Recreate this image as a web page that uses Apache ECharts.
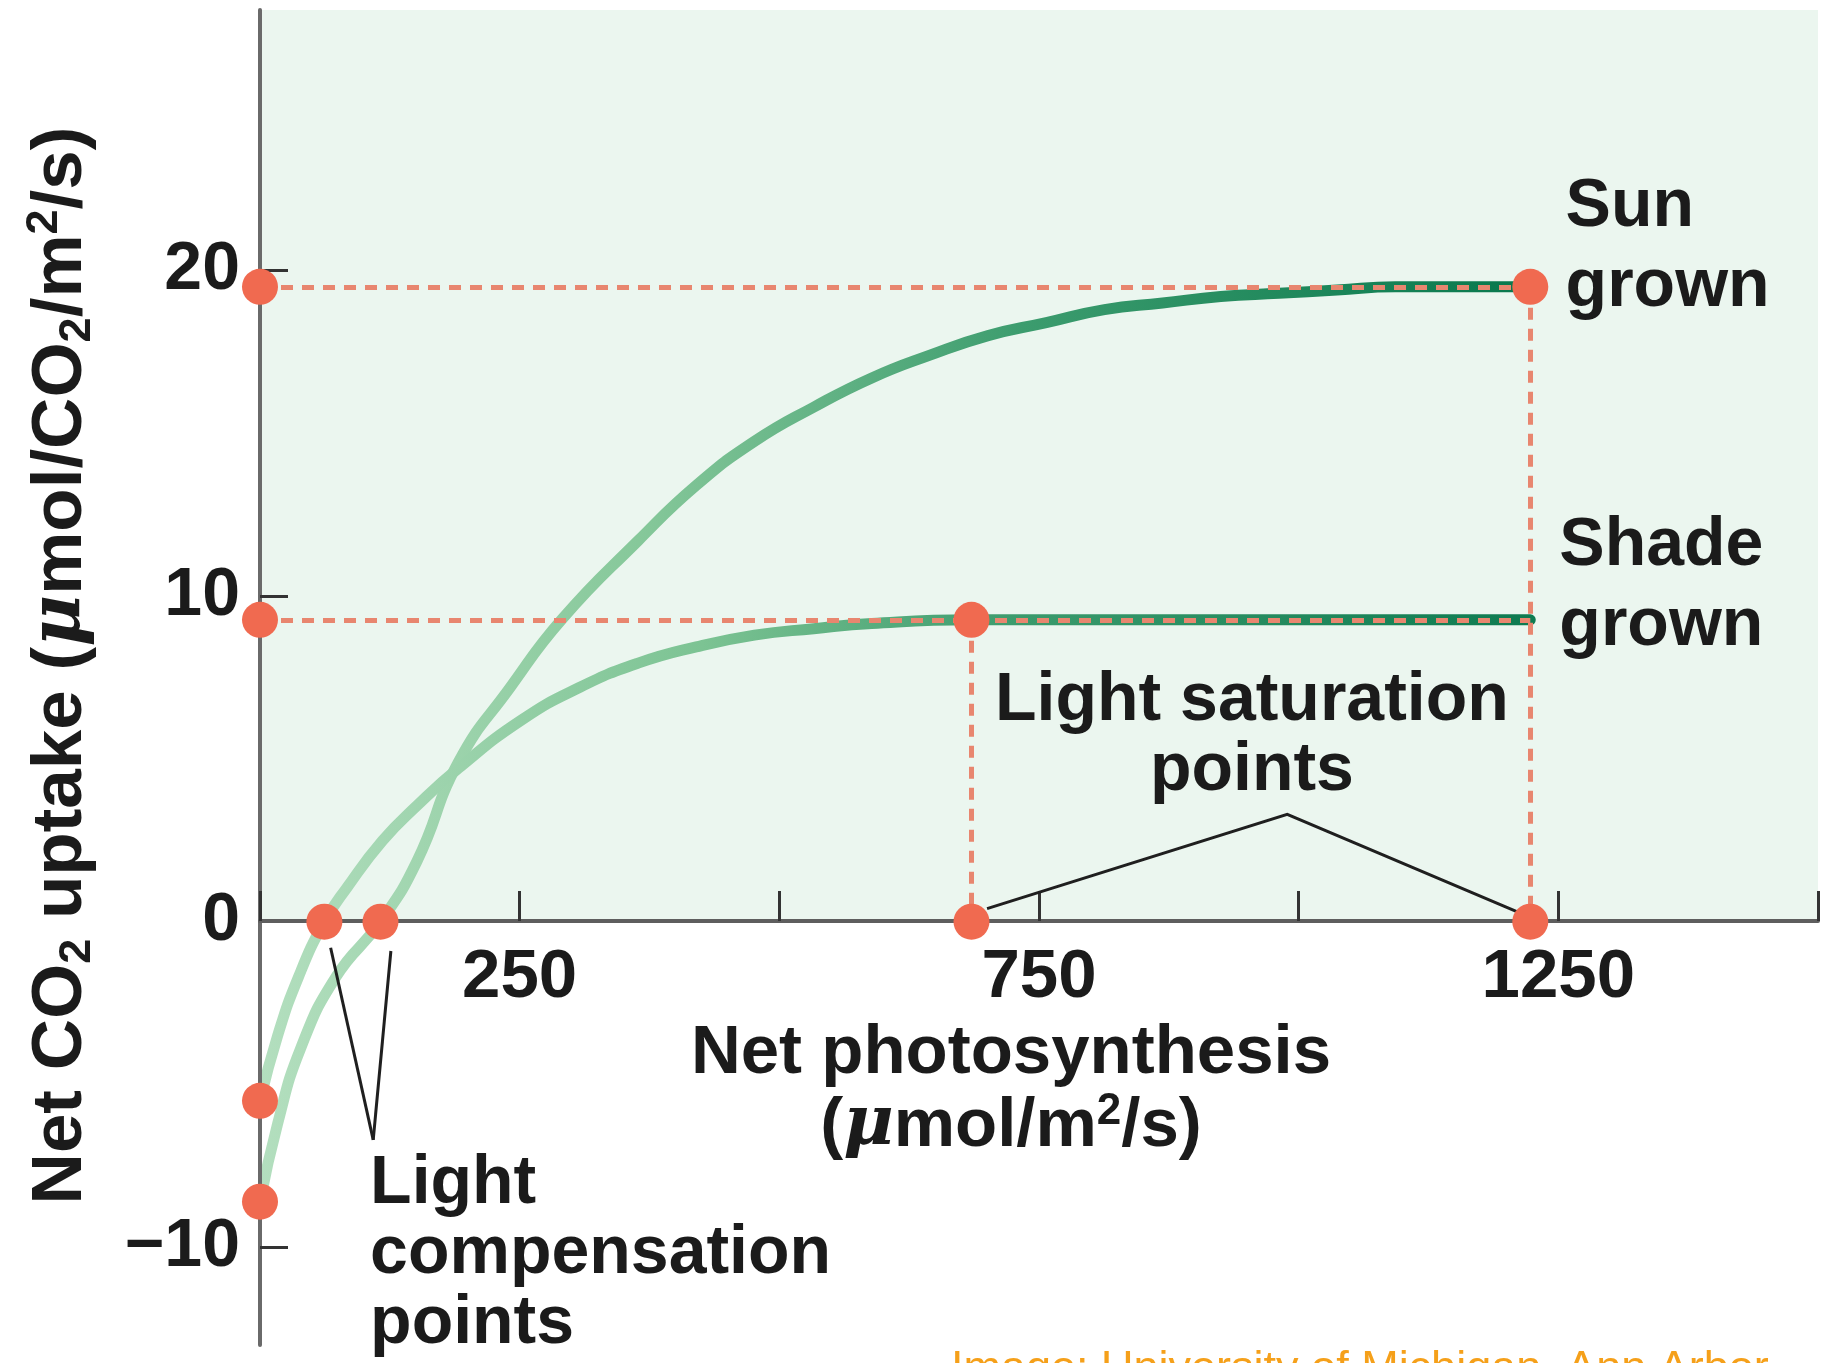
<!DOCTYPE html>
<html>
<head>
<meta charset="utf-8">
<title>Light response curves</title>
<script src="https://cdn.jsdelivr.net/npm/echarts@6/dist/echarts.min.js"></script>
<style>
  html, body { margin: 0; padding: 0; background: #fff; }
  #main { width: 1826px; height: 1363px; }
</style>
</head>
<body>
<div id="main"></div>
<script>
// tick labels
const xLabelVals = [250, 750, 1250];
const yLabelVals = [-10, 0, 10, 20];

// sun grown leaf
const sunX = [0, 17, 39, 73, 116, 151, 191, 241, 291, 364, 420, 476, 533, 589, 645, 701, 757, 813, 869, 925, 981, 1037, 1093, 1223];
const sunY = [-8.6, -6.2, -3.9, -1.7, 0, 1.85, 4.9, 7.2, 9.3, 11.7, 13.4, 14.75, 15.8, 16.7, 17.4, 18.0, 18.4, 18.8, 19.0, 19.2, 19.3, 19.4, 19.5, 19.5];

// shade grown leaf
const shadeX = [0, 17, 37, 62, 84, 118, 151, 191, 252, 308, 364, 420, 476, 533, 589, 685, 869, 1223];
const shadeY = [-5.5, -3.5, -1.7, 0, 1.06, 2.49, 3.56, 4.71, 6.2, 7.2, 7.94, 8.44, 8.8, 9.0, 9.16, 9.27, 9.27, 9.27];

// highlighted points (intercepts, compensation, saturation)
const dotX = [0, 0, 0, 0, 62, 116, 685, 1223, 685, 1223];
const dotY = [19.5, 9.27, -5.5, -8.6, 0, 0, 0, 0, 9.27, 19.5];

// dashed guides: start / end
const guideStart = [[0, 19.5], [0, 9.27], [685, 9.27], [1223, 19.5]];
const guideEnd = [[1223, 19.5], [1223, 9.27], [685, 0], [1223, 0]];

const FONT = '"Liberation Sans", Arial, Helvetica, sans-serif';
const INK = '#1b1b1b';

let myChart = echarts.init(document.getElementById('main'));

function zip(xs, ys) {
    return xs.map((x, i) => [x, ys[i]]);
}

function greenGrad(stops) {
    return new echarts.graphic.LinearGradient(0, 0, 1, 0, stops);
}

function richFor(size) {
    let small = Math.round(size * 0.64);
    let lh = Math.round(small * 0.9);
    return {
        s: { fontSize: small, fontWeight: 'bold', fontFamily: FONT, color: INK, lineHeight: lh, verticalAlign: 'bottom' },
        p: { fontSize: small, fontWeight: 'bold', fontFamily: FONT, color: INK, lineHeight: lh, verticalAlign: 'top' },
        m: { fontSize: size, fontStyle: 'italic', fontFamily: '"DejaVu Serif", serif', color: INK }
    };
}

let noteLabel = {
    show: true,
    position: 'inside',
    align: 'left',
    verticalAlign: 'middle',
    fontFamily: FONT,
    fontWeight: 'bold',
    fontSize: 68,
    lineHeight: 80,
    color: INK
};

let option = {
    animation: false,
    backgroundColor: '#ffffff',
    grid: { left: 260, right: 8, top: 10, bottom: 18, outerBoundsMode: 'none', containLabel: false },
    xAxis: {
        type: 'value',
        min: 0,
        max: 1500,
        interval: 250,
        z: 4,
        // the axis sits on y = 0, 424px above the grid bottom
        offset: -424,
        name: 'Net photosynthesis\n({m|μ}mol/m{p|2}/s)',
        nameLocation: 'middle',
        nameGap: 96,
        nameTextStyle: {
            fontFamily: FONT, fontWeight: 'bold', fontSize: 69, color: INK,
            lineHeight: 73, padding: [0, 56, 0, 0], rich: richFor(69)
        },
        axisLine: { onZero: false, lineStyle: { color: '#5e5e5e', width: 4 } },
        axisTick: { inside: true, length: 30, lineStyle: { color: '#333', width: 3 } },
        splitLine: { show: false },
        axisLabel: {
            customValues: xLabelVals,
            margin: 22,
            fontFamily: FONT, fontWeight: 'bold', fontSize: 69, color: INK,
            formatter: v => String(v)
        }
    },
    yAxis: {
        type: 'value',
        min: -13,
        max: 28,
        z: 4,
        name: 'Net CO{s|2} uptake ({m|μ}mol/CO{s|2}/m{p|2}/s)',
        nameLocation: 'middle',
        nameRotate: 90,
        nameGap: 160,
        nameTextStyle: {
            fontFamily: FONT, fontWeight: 'bold', fontSize: 71, color: INK,
            lineHeight: 78, padding: [0, 0, 0, 24], rich: richFor(71)
        },
        axisLine: { lineStyle: { color: '#6a6a6a', width: 4 } },
        axisTick: { inside: true, length: 28, customValues: [-10, 10, 20], lineStyle: { color: '#333', width: 3 } },
        splitLine: { show: false },
        axisLabel: {
            customValues: yLabelVals,
            margin: 20,
            fontFamily: FONT, fontWeight: 'bold', fontSize: 68, color: INK,
            formatter: v => (v < 0 ? '\u2212' + Math.abs(v) : String(v))
        }
    },
    graphic: [{
        type: 'text',
        left: 951,
        top: 1347,
        z: 20,
        style: {
            text: 'Image: University of Michigan, Ann Arbor',
            fill: '#f5a01a',
            font: '45px ' + FONT
        }
    }],
    series: [
        {
            // pale green panel above zero
            name: 'panel',
            type: 'line',
            z: 1,
            data: [],
            silent: true,
            markArea: {
                silent: true,
                itemStyle: { color: '#ebf6ef' },
                data: [[{ coord: [0, 0] }, { coord: [1500, 28] }]]
            }
        },
        {
            name: 'Sun grown',
            type: 'line',
            z: 3,
            data: zip(sunX, sunY),
            symbol: 'none',
            smooth: true,
            lineStyle: {
                width: 11,
                cap: 'round',
                color: greenGrad([
                    { offset: 0, color: '#b4dfbf' },
                    { offset: 0.3, color: '#86c89a' },
                    { offset: 0.6, color: '#3c9c6e' },
                    { offset: 1, color: '#07774c' }
                ])
            }
        },
        {
            name: 'Shade grown',
            type: 'line',
            z: 3,
            data: zip(shadeX, shadeY),
            symbol: 'none',
            smooth: true,
            lineStyle: {
                width: 11,
                cap: 'round',
                color: greenGrad([
                    { offset: 0, color: '#b4dfbf' },
                    { offset: 0.35, color: '#7cc393' },
                    { offset: 0.6, color: '#3a9a6c' },
                    { offset: 1, color: '#0d7a50' }
                ])
            }
        },
        {
            name: 'guides',
            type: 'lines',
            coordinateSystem: 'cartesian2d',
            z: 6,
            silent: true,
            data: guideStart.map((s, i) => ({ coords: [s, guideEnd[i]] })),
            lineStyle: { color: '#e8866f', width: 5, type: [12, 9], opacity: 1 }
        },
        {
            name: 'leaders',
            type: 'lines',
            coordinateSystem: 'cartesian2d',
            polyline: true,
            z: 6,
            silent: true,
            data: [
                { coords: [[68, -0.8], [109, -6.7]] },
                { coords: [[126, -0.9], [109, -6.7]] },
                { coords: [[700, 0.4], [989, 3.3], [1218, 0.2]] }
            ],
            lineStyle: { color: '#1f1f1f', width: 3, opacity: 1 }
        },
        {
            name: 'key points',
            type: 'scatter',
            z: 8,
            data: zip(dotX, dotY),
            symbolSize: 36,
            itemStyle: { color: '#f06a50', opacity: 1 }
        },
        {
            name: 'notes',
            type: 'scatter',
            z: 9,
            symbolSize: 0,
            silent: true,
            itemStyle: { opacity: 1 },
            data: [
                { value: [1257, 20.7], name: 'Sun\ngrown' },
                { value: [1251, 10.3], name: 'Shade\ngrown' },
                { value: [955, 5.7], name: 'Light saturation\npoints', label: { align: 'center', lineHeight: 70 } },
                { value: [106, -10.2], name: 'Light\ncompensation\npoints', label: { lineHeight: 70 } }
            ],
            label: Object.assign({ formatter: p => p.name }, noteLabel)
        }
    ]
};

myChart.setOption(option);
</script>
</body>
</html>
